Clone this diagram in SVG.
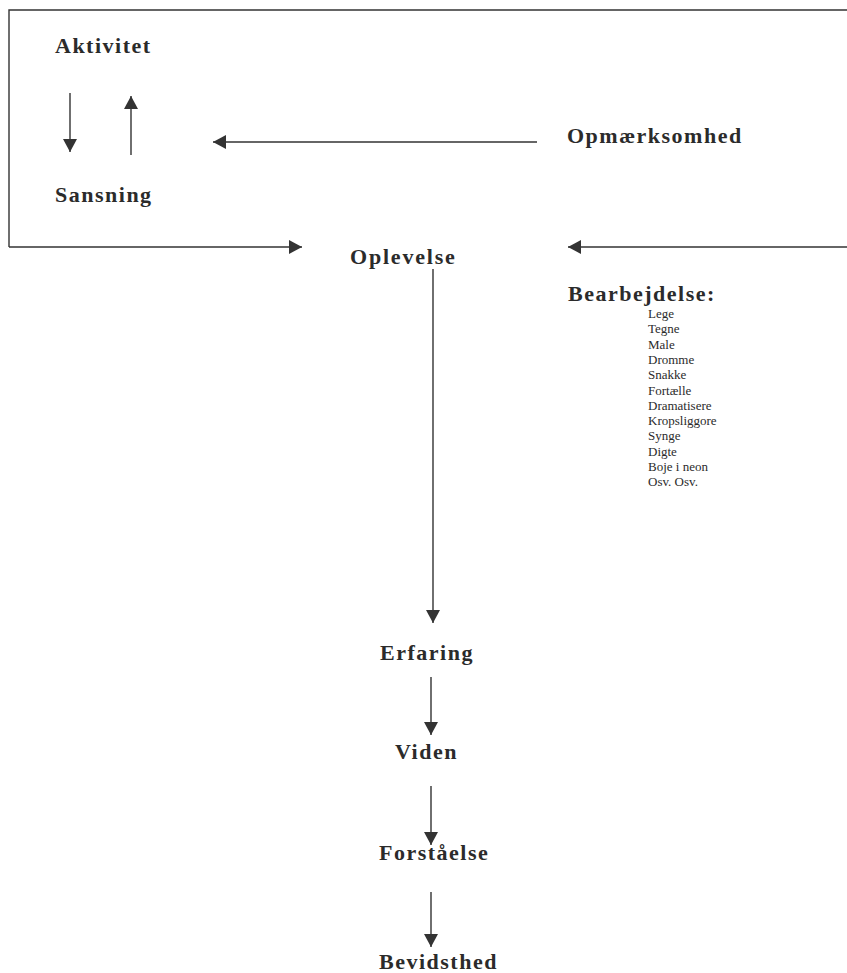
<svg xmlns="http://www.w3.org/2000/svg" width="847" height="973" viewBox="0 0 847 973">
<style>
.h{font-family:"Liberation Serif","Times New Roman",serif;font-weight:bold;font-size:22px;letter-spacing:1.5px;fill:#2b2b2b}
.l{font-family:"Liberation Serif","Times New Roman",serif;font-size:13px;fill:#2b2b2b}
.c{stroke:#333;stroke-width:1.4;fill:none}
</style>
<defs>
<marker id="ah" markerUnits="userSpaceOnUse" markerWidth="14" markerHeight="14" refX="13" refY="7" orient="auto">
<path d="M0,0 L13,7 L0,14 z" fill="#333"/>
</marker>
</defs>
<rect width="847" height="973" fill="#fff"/>
<g id="connectors">
<path class="c" d="M847,10 L9,10 L9,247"/>
<line class="c" x1="9" y1="247" x2="302" y2="247" marker-end="url(#ah)"/>
<line class="c" x1="847" y1="247" x2="568" y2="247" marker-end="url(#ah)"/>
<line class="c" x1="537" y1="142" x2="213" y2="142" marker-end="url(#ah)"/>
<line class="c" x1="70" y1="93" x2="70" y2="152" marker-end="url(#ah)"/>
<line class="c" x1="131" y1="155" x2="131" y2="96" marker-end="url(#ah)"/>
<line class="c" x1="433" y1="269" x2="433" y2="623" marker-end="url(#ah)"/>
<line class="c" x1="431" y1="677" x2="431" y2="735" marker-end="url(#ah)"/>
<line class="c" x1="431" y1="786" x2="431" y2="845" marker-end="url(#ah)"/>
<line class="c" x1="431" y1="892" x2="431" y2="947" marker-end="url(#ah)"/>
</g>
<g id="aktivitet"><text class="h" x="55" y="53">Aktivitet</text></g>
<g id="sansning"><text class="h" x="55" y="202">Sansning</text></g>
<g id="opmaerksomhed"><text class="h" x="567" y="143">Opmærksomhed</text></g>
<g id="oplevelse"><text class="h" x="350" y="264" style="letter-spacing:1.8px">Oplevelse</text></g>
<g id="bearbejdelse">
<text class="h" x="568" y="301">Bearbejdelse:</text>
<text class="l" x="648" y="318">Lege</text>
<text class="l" x="648" y="333.3">Tegne</text>
<text class="l" x="648" y="348.6">Male</text>
<text class="l" x="648" y="363.9">Dromme</text>
<text class="l" x="648" y="379.2">Snakke</text>
<text class="l" x="648" y="394.5">Fortælle</text>
<text class="l" x="648" y="409.8">Dramatisere</text>
<text class="l" x="648" y="425.1">Kropsliggore</text>
<text class="l" x="648" y="440.4">Synge</text>
<text class="l" x="648" y="455.7">Digte</text>
<text class="l" x="648" y="471">Boje i neon</text>
<text class="l" x="648" y="486.3">Osv. Osv.</text>
</g>
<g id="erfaring"><text class="h" x="380" y="660">Erfaring</text></g>
<g id="viden"><text class="h" x="395" y="759">Viden</text></g>
<g id="forstaaelse"><text class="h" x="379" y="860">Forståelse</text></g>
<g id="bevidsthed"><text class="h" x="379" y="969">Bevidsthed</text></g>
</svg>
